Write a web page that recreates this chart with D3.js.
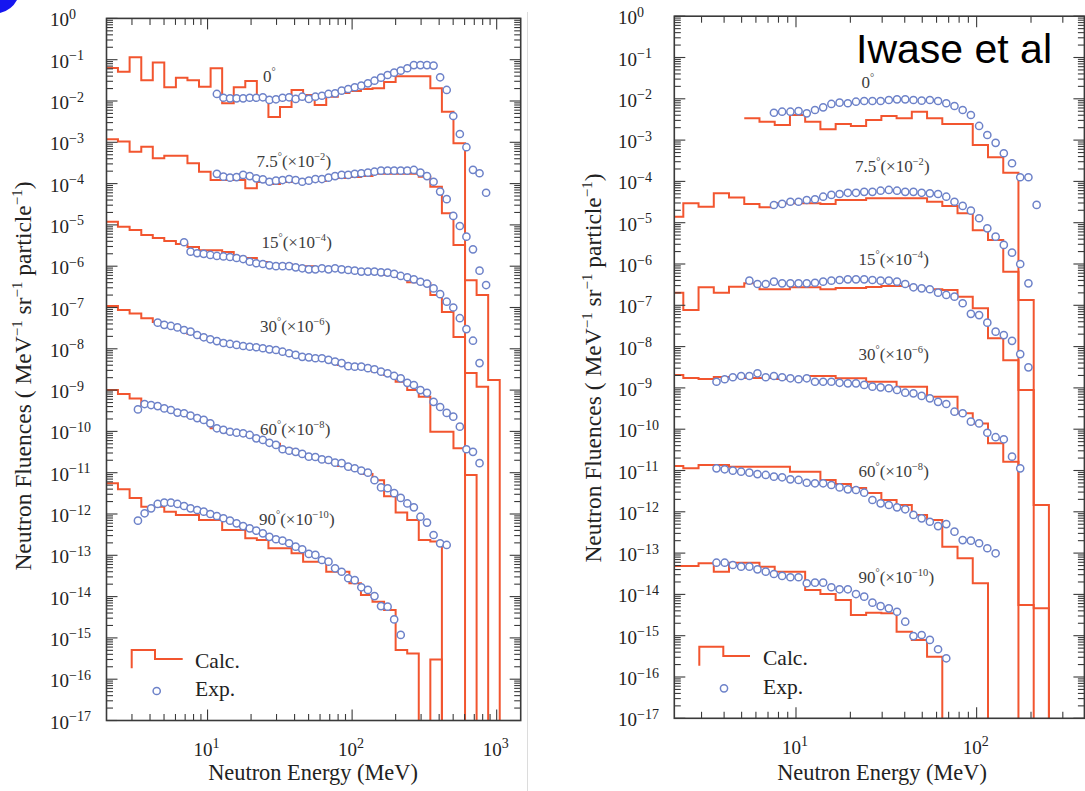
<!DOCTYPE html>
<html>
<head>
<meta charset="utf-8">
<script src="https://cdn.jsdelivr.net/npm/d3@7"></script>
<style>
  body { margin: 0; background: #fff; }
  svg { display: block; }
  text.serif { font-family: "Liberation Serif", "Times New Roman", serif; }
  text.sans { font-family: "Liberation Sans", Arial, sans-serif; }
</style>
</head>
<body>
<svg id="chart" width="1085" height="791"></svg>
<script>
// ---- Angles and the factor each spectrum is multiplied by for display ----
const angleNames = ["0", "7.5", "15", "30", "60", "90"];
const scaleExponents = [0, -2, -4, -6, -8, -10];

// ---- Left panel: calculated spectra (histogram bin edges in MeV, values per bin) ----
const leftCalcEdges = [2.00, 2.40, 2.89, 3.48, 4.18, 5.02, 6.04, 7.26, 8.73, 10.50, 12.62, 15.18, 18.24, 21.93,
  26.37, 31.70, 38.11, 45.82, 55.09, 66.23, 79.62, 95.73, 115.1, 138.4, 166.4, 200.0, 240.5, 289.1, 347.6,
  417.9, 502.4, 604.1, 726.3, 873.2, 1049.8];
const leftCalcStart = [0, 0, 0, 0, 0, 0];
const leftCalc0 = [6.3e-2, 5.1e-2, 1.14e-1, 3.2e-2, 8.6e-2, 2.15e-2, 3.67e-2, 3.2e-2, 2.2e-2, 6.2e-2, 8.8e-3,
  2.15e-2, 3.05e-2, 1.2e-2, 4.1e-3, 7.2e-3, 1.85e-2, 1.4e-2, 8.0e-3, 1.27e-2, 1.56e-2, 1.75e-2, 1.95e-2,
  2.05e-2, 2.9e-2, 4.0e-2, 4.0e-2, 4.0e-2, 2.05e-2, 5.5e-3, 9.5e-4];
const leftCalc1 = [1.18e-1, 1.04e-1, 5.9e-2, 7.8e-2, 4.1e-2, 4.7e-2, 4.7e-2, 3.1e-2, 1.94e-2, 1.22e-2, 1.22e-2,
  1.22e-2, 7.7e-3, 1.1e-2, 9.8e-3, 1.1e-2, 1.1e-2, 1.22e-2, 1.16e-2, 1.36e-2, 1.36e-2, 1.44e-2, 1.52e-2,
  1.72e-2, 1.72e-2, 1.72e-2, 1.72e-2, 1.47e-2, 8.4e-3, 1.91e-3, 3.27e-4, 4.6e-5, 2.0e-5, 1.76e-7];
const leftCalc2 = [1.2e-1, 9.0e-2, 7.5e-2, 5.7e-2, 4.8e-2, 4.1e-2, 3.45e-2, 2.9e-2, 2.45e-2, 2.45e-2, 2.2e-2,
  1.7e-2, 1.58e-2, 1.26e-2, 1.13e-2, 1.13e-2, 1.0e-2, 1.0e-2, 9.0e-3, 8.5e-3, 9.0e-3, 8.1e-3, 7.2e-3, 6.8e-3,
  6.1e-3, 5.5e-3, 4.1e-3, 3.9e-3, 2.0e-3, 7.8e-4, 1.93e-4, 2.6e-5, 1.2e-5];
const leftCalc3 = [1.08e-1, 8.7e-2, 7.2e-2, 5.5e-2, 4.45e-2, 3.37e-2, 2.85e-2, 2.28e-2, 1.83e-2, 1.54e-2, 1.31e-2,
  1.17e-2, 1.11e-2, 9.9e-3, 9.35e-3, 7.9e-3, 6.7e-3, 6.0e-3, 5.65e-3, 5.1e-3, 4.05e-3, 3.6e-3, 3.25e-3,
  2.75e-3, 2.32e-3, 1.6e-3, 1.0e-3, 6.9e-4, 9.8e-5, 9.8e-5, 3.9e-5, 8.8e-6];
const leftCalc4 = [1.0e-1, 8.0e-2, 6.3e-2, 4.35e-2, 4.1e-2, 3.3e-2, 2.8e-2, 2.25e-2, 1.8e-2, 1.2e-2, 9.6e-3,
  8.6e-3, 7.7e-3, 6.2e-3, 5.0e-3, 3.8e-3, 3.2e-3, 2.55e-3, 2.15e-3, 1.8e-3, 1.45e-3, 1.22e-3, 9.3e-4, 6.6e-4,
  2.7e-4, 1.08e-4, 7.2e-5, 2.35e-5, 2.15e-5];
const leftCalc5 = [5.55e-2, 3.96e-2, 2.45e-2, 1.5e-2, 1.5e-2, 1.14e-2, 9.5e-3, 9.5e-3, 7.2e-3, 7.2e-3, 4.1e-3,
  4.1e-3, 2.58e-3, 2.35e-3, 1.48e-3, 1.48e-3, 1.12e-3, 7.0e-4, 7.0e-4, 4.0e-4, 4.0e-4, 2.1e-4, 1.1e-4, 7.5e-5,
  4.75e-5, 5.1e-6, 4.2e-6, 0, 3.0e-6];

// ---- Left panel: measured spectra (energies in MeV; each series starts at leftExpStart[i]) ----
const leftExpEnergy = [3.30, 3.67, 4.07, 4.52, 5.02, 5.58, 6.19, 6.88, 7.63, 8.48, 9.41, 10.45, 11.60, 12.88,
  14.30, 15.88, 17.63, 19.57, 21.73, 24.13, 26.79, 29.74, 33.02, 36.66, 40.70, 45.19, 50.17, 55.70, 61.84,
  68.66, 76.23, 84.64, 93.97, 104.3, 115.8, 128.6, 142.8, 158.5, 176.0, 195.4, 216.9, 240.9, 267.4, 296.9,
  329.6, 366.0, 406.3, 451.1, 500.9, 556.1, 617.4, 685.5, 761.0, 845.0];
const leftExpStart = [12, 12, 7, 3, 0, 0];
const leftExp0 = [1.48e-2, 1.20e-2, 1.16e-2, 1.16e-2, 1.16e-2, 1.20e-2, 1.20e-2, 1.23e-2, 1.06e-2, 1.10e-2,
  1.20e-2, 1.23e-2, 1.12e-2, 1.27e-2, 1.12e-2, 1.27e-2, 1.34e-2, 1.48e-2, 1.53e-2, 1.78e-2, 1.95e-2, 2.15e-2,
  2.35e-2, 2.68e-2, 3.10e-2, 3.67e-2, 4.26e-2, 4.85e-2, 5.42e-2, 6.2e-2, 7.4e-2, 7.4e-2, 7.4e-2, 7.2e-2,
  3.75e-2, 1.85e-2, 4.33e-3, 1.59e-3, 7.6e-4, 2.15e-4, 1.78e-4, 6.0e-5];
const leftExp1 = [1.72e-2, 1.47e-2, 1.39e-2, 1.44e-2, 1.62e-2, 1.52e-2, 1.34e-2, 1.27e-2, 1.11e-2, 1.18e-2,
  1.22e-2, 1.29e-2, 1.22e-2, 1.11e-2, 1.18e-2, 1.29e-2, 1.29e-2, 1.39e-2, 1.52e-2, 1.62e-2, 1.62e-2, 1.72e-2,
  1.78e-2, 1.84e-2, 1.94e-2, 2.06e-2, 2.06e-2, 2.06e-2, 2.06e-2, 2.06e-2, 2.14e-2, 1.84e-2, 1.52e-2, 1.11e-2,
  6.4e-3, 4.2e-3, 1.65e-3, 9.4e-4, 5.2e-4, 2.56e-4, 7.8e-5, 3.5e-5];
const leftExp2 = [3.8e-2, 2.25e-2, 2.06e-2, 1.98e-2, 1.87e-2, 1.77e-2, 1.72e-2, 1.67e-2, 1.58e-2, 1.49e-2,
  1.28e-2, 1.18e-2, 1.13e-2, 1.05e-2, 1.0e-2, 1.0e-2, 1.0e-2, 9.4e-3, 8.9e-3, 8.4e-3, 8.4e-3, 8.9e-3, 8.4e-3,
  8.9e-3, 8.4e-3, 8.1e-3, 7.8e-3, 7.4e-3, 7.4e-3, 7.4e-3, 7.1e-3, 7.0e-3, 6.5e-3, 5.8e-3, 5.4e-3, 4.8e-3,
  4.2e-3, 3.8e-3, 2.9e-3, 2.1e-3, 1.38e-3, 1.0e-3, 5.5e-4, 3.0e-4, 1.57e-4, 4.5e-5];
const leftExp3 = [4.3e-2, 3.8e-2, 3.57e-2, 3.3e-2, 2.85e-2, 2.6e-2, 2.16e-2, 1.9e-2, 1.7e-2, 1.54e-2, 1.38e-2,
  1.31e-2, 1.24e-2, 1.17e-2, 1.12e-2, 1.09e-2, 1.03e-2, 9.7e-3, 9.35e-3, 8.5e-3, 7.8e-3, 7.1e-3, 6.4e-3,
  6.2e-3, 5.9e-3, 5.9e-3, 5.4e-3, 4.9e-3, 4.5e-3, 3.8e-3, 3.7e-3, 3.7e-3, 3.4e-3, 3.2e-3, 2.8e-3, 2.55e-3,
  2.2e-3, 1.93e-3, 1.5e-3, 1.33e-3, 1.0e-3, 8.6e-4, 5.2e-4, 3.9e-4, 2.8e-4, 2.27e-4, 1.3e-4, 3.7e-5, 3.2e-5,
  1.7e-5];
const leftExp4 = [3.4e-2, 4.6e-2, 4.35e-2, 4.1e-2, 3.6e-2, 3.3e-2, 2.85e-2, 2.75e-2, 2.4e-2, 2.1e-2, 1.9e-2,
  1.57e-2, 1.19e-2, 1.09e-2, 9.8e-3, 9.3e-3, 9.0e-3, 8.2e-3, 6.8e-3, 6.2e-3, 5.3e-3, 4.7e-3, 3.7e-3, 3.4e-3,
  3.2e-3, 2.85e-3, 2.45e-3, 2.4e-3, 2.1e-3, 2.03e-3, 1.75e-3, 1.7e-3, 1.4e-3, 1.28e-3, 1.12e-3, 1.0e-3,
  6.6e-4, 4.4e-4, 4.2e-4, 3.2e-4, 2.45e-4, 1.8e-4, 1.45e-4, 8.6e-5, 6.2e-5, 3.1e-5, 1.95e-5, 1.78e-5];
const leftExp5 = [6.9e-3, 1.04e-2, 1.37e-2, 1.75e-2, 1.88e-2, 1.88e-2, 1.75e-2, 1.56e-2, 1.37e-2, 1.25e-2,
  1.14e-2, 1.0e-2, 8.95e-3, 7.9e-3, 6.9e-3, 5.95e-3, 5.1e-3, 4.5e-3, 3.95e-3, 3.4e-3, 2.8e-3, 2.45e-3,
  2.26e-3, 1.96e-3, 1.62e-3, 1.4e-3, 1.08e-3, 1.02e-3, 7.7e-4, 7.0e-4, 4.85e-4, 4.0e-4, 2.78e-4, 2.5e-4,
  1.68e-4, 1.45e-4, 1.03e-4, 5.9e-5, 5.7e-5, 2.8e-5, 1.18e-5];

// ---- Right panel: calculated spectra ----
const rightCalcEdges = [1.958, 2.378, 2.888, 3.507, 4.258, 5.171, 6.279, 7.625, 9.259, 11.24, 13.65, 16.58,
  20.13, 24.45, 29.69, 36.05, 43.77, 53.16, 64.55, 78.38, 95.18, 115.6, 140.4, 170.4, 207.0, 251.3];
const rightCalcStart = [5, 0, 0, 0, 0, 0];
const rightCalc0 = [3.37e-3, 2.8e-3, 2.32e-3, 4.05e-3, 2.8e-3, 1.83e-3, 2.45e-3, 2.2e-3, 3.07e-3, 3.83e-3,
  3.37e-3, 4.87e-3, 3.37e-3, 2.45e-3, 2.45e-3, 7.6e-4, 3.83e-4, 1.62e-4];
const rightCalc1 = [1.4e-3, 2.95e-3, 2.45e-3, 5.15e-3, 4.1e-3, 2.85e-3, 2.36e-3, 2.95e-3, 2.95e-3, 2.95e-3,
  2.85e-3, 3.55e-3, 3.55e-3, 3.9e-3, 3.9e-3, 3.9e-3, 3.9e-3, 3.2e-3, 2.55e-3, 1.7e-3, 6.6e-4, 3.8e-4, 6.5e-5,
  1.34e-5, 1.46e-10];
const rightCalc2 = [2.02e-3, 7.7e-4, 2.73e-3, 2.02e-3, 2.83e-3, 3.4e-3, 2.45e-3, 2.45e-3, 2.73e-3, 2.73e-3,
  2.45e-3, 2.63e-3, 2.63e-3, 2.78e-3, 2.94e-3, 2.94e-3, 2.63e-3, 2.45e-3, 2.35e-3, 1.62e-3, 8.46e-4, 1.59e-4,
  4.7e-5, 8.9e-6, 4.6e-11];
const rightCalc3 = [2.06e-3, 1.74e-3, 1.65e-3, 1.84e-3, 1.84e-3, 1.74e-3, 1.74e-3, 1.65e-3, 1.65e-3, 1.94e-3,
  1.94e-3, 1.72e-3, 1.72e-3, 1.41e-3, 1.41e-3, 1.07e-3, 1.07e-3, 6.1e-4, 6.1e-4, 2.43e-4, 1.38e-4, 4.55e-5,
  1.64e-5, 5.55e-9];
const rightCalc4 = [1.28e-3, 1.13e-3, 1.36e-3, 1.36e-3, 1.24e-3, 1.24e-3, 1.24e-3, 1.24e-3, 9.35e-4, 9.35e-4,
  5.9e-4, 4.7e-4, 3.77e-4, 2.85e-4, 1.93e-4, 1.46e-4, 8.4e-5, 6.3e-5, 1.43e-5, 7.5e-6, 1.86e-6];
const rightCalc5 = [4.87e-4, 4.87e-4, 5.65e-4, 3.55e-4, 5.85e-4, 5.85e-4, 4.7e-4, 3.55e-4, 3.55e-4, 1.28e-4,
  1.02e-4, 7.3e-5, 3.17e-5, 3.6e-5, 3.5e-5, 1.25e-5, 7.9e-6, 3.1e-6];

// ---- Right panel: measured spectra ----
const rightExpEnergy = [3.63, 4.03, 4.47, 4.97, 5.52, 6.12, 6.80, 7.55, 8.38, 9.31, 10.33, 11.47, 12.74, 14.14,
  15.70, 17.43, 19.36, 21.49, 23.86, 26.49, 29.41, 32.65, 36.25, 40.25, 44.69, 49.62, 55.09, 61.16, 67.91,
  75.39, 83.71, 92.94, 103.2, 114.6, 127.4, 141.4, 157.0, 174.3, 193.5, 214.9];
const rightExpStart = [7, 7, 4, 0, 0, 0];
const rightExp0 = [4.6e-3, 4.87e-3, 4.87e-3, 5.05e-3, 4.45e-3, 5.35e-3, 6.2e-3, 7.5e-3, 8.05e-3, 7.8e-3, 8.5e-3,
  8.85e-3, 8.85e-3, 8.85e-3, 9.35e-3, 9.7e-3, 9.7e-3, 9.35e-3, 9.0e-3, 9.35e-3, 8.85e-3, 7.8e-3, 6.7e-3,
  5.35e-3, 4.05e-3, 2.2e-3, 1.33e-3, 8.6e-4, 4.8e-4, 2.75e-4, 1.26e-4, 1.26e-4, 2.7e-5];
const rightExp1 = [2.68e-3, 2.85e-3, 3.22e-3, 3.22e-3, 3.55e-3, 3.7e-3, 4.26e-3, 4.7e-3, 4.95e-3, 5.3e-3, 5.3e-3,
  5.6e-3, 5.6e-3, 5.95e-3, 6.2e-3, 5.95e-3, 5.6e-3, 5.6e-3, 5.3e-3, 5.15e-3, 4.95e-3, 4.26e-3, 3.22e-3, 2.55e-3,
  1.96e-3, 1.28e-3, 7.3e-4, 4.6e-4, 2.9e-4, 1.88e-4, 1.0e-4, 3.4e-5];
const rightExp2 = [3.95e-3, 3.28e-3, 3.28e-3, 3.73e-3, 3.4e-3, 3.4e-3, 3.4e-3, 3.4e-3, 3.52e-3, 3.73e-3, 3.95e-3,
  4.1e-3, 4.26e-3, 4.26e-3, 4.26e-3, 4.1e-3, 3.95e-3, 3.95e-3, 3.73e-3, 3.28e-3, 2.73e-3, 2.58e-3, 2.45e-3,
  2.02e-3, 1.78e-3, 1.62e-3, 1.12e-3, 6.2e-4, 5.8e-4, 3.8e-4, 2.3e-4, 1.9e-4, 1.38e-4, 6.6e-5, 3.15e-5];
const rightExp3 = [1.41e-3, 1.62e-3, 1.81e-3, 1.94e-3, 1.94e-3, 2.26e-3, 1.81e-3, 1.94e-3, 1.81e-3, 1.71e-3,
  1.62e-3, 1.71e-3, 1.41e-3, 1.41e-3, 1.41e-3, 1.33e-3, 1.29e-3, 1.29e-3, 1.18e-3, 1.07e-3, 1.03e-3, 9.8e-4,
  8.9e-4, 7.65e-4, 7.4e-4, 6.4e-4, 5.6e-4, 4.6e-4, 4.07e-4, 2.65e-4, 2.43e-4, 1.52e-4, 1.38e-4, 8.2e-5, 6.4e-5,
  5.7e-5, 2.16e-5, 1.13e-5];
const rightExp4 = [1.13e-3, 1.07e-3, 9.9e-4, 9.35e-4, 8.85e-4, 8.2e-4, 7.8e-4, 7.1e-4, 6.85e-4, 6.1e-4, 5.9e-4,
  5.05e-4, 4.9e-4, 4.9e-4, 4.45e-4, 3.9e-4, 3.5e-4, 3.37e-4, 2.9e-4, 1.93e-4, 1.6e-4, 1.46e-4, 1.28e-4, 1.15e-4,
  8.4e-5, 6.95e-5, 5.75e-5, 4.5e-5, 5.05e-5, 3.3e-5, 2.07e-5, 2.0e-5, 1.73e-5, 1.31e-5, 9.9e-6];
const rightExp5 = [5.85e-4, 5.85e-4, 5.15e-4, 4.7e-4, 4.7e-4, 4.05e-4, 3.55e-4, 3.12e-4, 2.8e-4, 2.6e-4, 2.6e-4,
  1.86e-4, 1.92e-4, 1.92e-4, 1.49e-4, 1.33e-4, 1.33e-4, 1.02e-4, 8.8e-5, 6.3e-5, 5.2e-5, 4.6e-5, 3.8e-5,
  2.18e-5, 9.8e-6, 1.04e-5, 7.9e-6, 4.7e-6, 2.84e-6];

// ---- Axis tick labels ----
const yTickExponents = d3.range(0, -18, -1);
const leftXTickValues = [10, 100, 1000];
const rightXTickValues = [10, 100];

// ---- Styling ----
const calcColor = "#f2552f";
const expColor = "#6d82c9";
const axisColor = "#3a3a3a";
const minus = "\u2212";

const svg = d3.select("#chart");

const panels = [
  {
    id: "L",
    x: d3.scaleLog().domain([2, 1466]).range([106.5, 520.7]),
    y: d3.scaleLog().domain([1e-17, 1]).range([720.5, 18.4]),
    calcEdges: leftCalcEdges, calcStart: leftCalcStart,
    calc: [leftCalc0, leftCalc1, leftCalc2, leftCalc3, leftCalc4, leftCalc5],
    expEnergy: leftExpEnergy, expStart: leftExpStart,
    exp: [leftExp0, leftExp1, leftExp2, leftExp3, leftExp4, leftExp5],
    xTicks: leftXTickValues,
    yLabelX: 50,
    angleLabelPos: [[263, 81.5], [256.5, 166.5], [261.5, 248], [260, 331.5], [260, 435], [259, 525]],
    legend: { x0: 131.7, yTop: 650, yMid: 659, yBottom: 668.3, xStep: 155, x1: 182.7, textX: 195,
              calcBase: 668, circleX: 156.7, circleY: 691, expBase: 696 },
    xTitle: [313, 780],
    yTitle: [31, 376]
  },
  {
    id: "R",
    x: d3.scaleLog().domain([2.12, 395]).range([674.3, 1084.4]),
    y: d3.scaleLog().domain([1e-17, 1]).range([718.3, 16.2]),
    calcEdges: rightCalcEdges, calcStart: rightCalcStart,
    calc: [rightCalc0, rightCalc1, rightCalc2, rightCalc3, rightCalc4, rightCalc5],
    expEnergy: rightExpEnergy, expStart: rightExpStart,
    exp: [rightExp0, rightExp1, rightExp2, rightExp3, rightExp4, rightExp5],
    xTicks: rightXTickValues,
    yLabelX: 618,
    angleLabelPos: [[861.5, 88], [855, 171.5], [858.5, 265], [858.5, 360], [858.5, 476.5], [858.5, 583]],
    legend: { x0: 699.3, yTop: 646.7, yMid: 656, yBottom: 665.7, xStep: 723.3, x1: 750, textX: 763,
              calcBase: 665, circleX: 724, circleY: 688.3, expBase: 694 },
    xTitle: [882, 780],
    yTitle: [601, 368]
  }
];

// text built from plain and raised parts
function richText(sel, parts, supSize, supShift) {
  let raised = false;
  parts.forEach(([s, sup]) => {
    const t = sel.append("tspan").text(s);
    if (sup) {
      t.attr("font-size", supSize);
      if (!raised) t.attr("dy", -supShift);
    } else if (raised) {
      t.attr("dy", supShift);
    }
    raised = sup;
  });
}

function serifText(parent) {
  return parent.append("text").attr("class", "serif");
}

// faint divider between the two figures
svg.append("line").attr("x1", 527.5).attr("x2", 527.5).attr("y1", 12).attr("y2", 791)
  .attr("stroke", "#dcdcdc").attr("stroke-width", 1);

panels.forEach(p => {
  const [x0, x1] = p.x.range();
  const [yb, yt] = p.y.range();
  const g = svg.append("g");

  g.append("clipPath").attr("id", "clip" + p.id)
    .append("rect").attr("x", x0).attr("y", yt).attr("width", x1 - x0).attr("height", yb - yt);

  const plot = g.append("g").attr("clip-path", `url(#clip${p.id})`);

  // calculated spectra as step histograms; empty bins drop below the axis
  const below = yb + 40;
  const step = d3.line()
    .x(d => p.x(d[0]))
    .y(d => d[1] > 0 ? p.y(d[1]) : below)
    .curve(d3.curveStepAfter);

  p.calc.forEach((vals, i) => {
    const f = Math.pow(10, scaleExponents[i]);
    const s = p.calcStart[i];
    const pts = vals.map((v, j) => [p.calcEdges[s + j], v * f]);
    pts.push([p.calcEdges[s + vals.length], 0]);
    plot.append("path").attr("d", step(pts))
      .attr("fill", "none").attr("stroke", calcColor).attr("stroke-width", 2)
      .attr("stroke-linejoin", "miter");
  });

  // measured spectra as open circles
  p.exp.forEach((vals, i) => {
    const f = Math.pow(10, scaleExponents[i]);
    const s = p.expStart[i];
    const pts = vals.map((v, j) => [p.expEnergy[s + j], v * f]);
    plot.append("g").selectAll("circle").data(pts).join("circle")
      .attr("cx", d => p.x(d[0])).attr("cy", d => p.y(d[1])).attr("r", 3.6)
      .attr("fill", "#fff").attr("stroke", expColor).attr("stroke-width", 1.5);
  });

  // frame
  g.append("rect").attr("x", x0).attr("y", yt).attr("width", x1 - x0).attr("height", yb - yt)
    .attr("fill", "none").attr("stroke", axisColor).attr("stroke-width", 1.6);

  // inward ticks on all four sides
  const ticks = g.append("g").attr("stroke", axisColor).attr("stroke-width", 1.1);
  const majorLen = 11, minorLen = 6.5;
  for (let e = -17; e <= 0; e++) {
    for (let m = 1; m <= 9; m++) {
      const v = m * Math.pow(10, e);
      if (v > 1.0000001) continue;
      const yy = p.y(v);
      const len = m === 1 ? majorLen : minorLen;
      ticks.append("line").attr("x1", x0).attr("x2", x0 + len).attr("y1", yy).attr("y2", yy);
      ticks.append("line").attr("x1", x1).attr("x2", x1 - len).attr("y1", yy).attr("y2", yy);
    }
  }
  const [dx0, dx1] = p.x.domain();
  for (let e = Math.floor(Math.log10(dx0)); e <= Math.ceil(Math.log10(dx1)); e++) {
    for (let m = 1; m <= 9; m++) {
      const v = m * Math.pow(10, e);
      if (v <= dx0 * 1.001 || v >= dx1) continue;
      const xx = p.x(v);
      const len = m === 1 ? majorLen : minorLen;
      ticks.append("line").attr("x1", xx).attr("x2", xx).attr("y1", yb).attr("y2", yb - len);
      ticks.append("line").attr("x1", xx).attr("x2", xx).attr("y1", yt).attr("y2", yt + len);
    }
  }

  // y tick labels
  yTickExponents.forEach(e => {
    const t = serifText(g).attr("x", p.yLabelX).attr("y", p.y(Math.pow(10, e)) + 8)
      .attr("font-size", 19).attr("fill", "#222");
    richText(t, [["10", false], [e < 0 ? minus + (-e) : "0", true]], 14, 7.5);
  });

  // x tick labels
  p.xTicks.forEach(v => {
    const t = serifText(g).attr("x", p.x(v) - 1).attr("y", yb + 35.5)
      .attr("text-anchor", "middle").attr("font-size", 19).attr("fill", "#222");
    richText(t, [["10", false], [String(Math.round(Math.log10(v))), true]], 14, 8);
  });

  // angle labels
  p.angleLabelPos.forEach(([lx, ly], i) => {
    const t = serifText(g).attr("x", lx).attr("y", ly).attr("font-size", 17).attr("fill", "#3c3c3c");
    const parts = [[angleNames[i], false], ["\u00b0", true]];
    if (scaleExponents[i] !== 0) {
      parts.push(["(\u00d710", false], [minus + (-scaleExponents[i]), true], [")", false]);
    }
    richText(t, parts, 10.5, 7);
  });

  // legend
  const lg = p.legend;
  g.append("path")
    .attr("d", `M${lg.x0},${lg.yBottom}V${lg.yTop}H${lg.xStep}V${lg.yMid}H${lg.x1}`)
    .attr("fill", "none").attr("stroke", calcColor).attr("stroke-width", 2);
  serifText(g).attr("x", lg.textX).attr("y", lg.calcBase).attr("font-size", 21.5).attr("fill", "#222").text("Calc.");
  g.append("circle").attr("cx", lg.circleX).attr("cy", lg.circleY).attr("r", 3.6)
    .attr("fill", "#fff").attr("stroke", expColor).attr("stroke-width", 1.5);
  serifText(g).attr("x", lg.textX).attr("y", lg.expBase).attr("font-size", 21.5).attr("fill", "#222").text("Exp.");

  // axis titles
  serifText(g).attr("x", p.xTitle[0]).attr("y", p.xTitle[1]).attr("text-anchor", "middle")
    .attr("font-size", 22.4).attr("fill", "#222").text("Neutron Energy (MeV)");
  const yt2 = serifText(g)
    .attr("transform", `translate(${p.yTitle[0]},${p.yTitle[1]}) rotate(-90)`)
    .attr("text-anchor", "middle").attr("font-size", 23.5).attr("fill", "#222");
  richText(yt2, [["Neutron Fluences ( MeV", false], [minus + "1", true], [" sr", false], [minus + "1", true],
    [" particle", false], [minus + "1", true], [")", false]], 15, 9);
});

// author tag on the right figure
svg.append("text").attr("class", "sans").attr("x", 856).attr("y", 63)
  .attr("font-size", 41).attr("fill", "#000")
  .text("Iwase et al");

// blue corner mark
svg.append("path").attr("d", "M0,0H17A26,26 0 0 1 0,13Z").attr("fill", "#1616f0");
</script>
</body>
</html>
